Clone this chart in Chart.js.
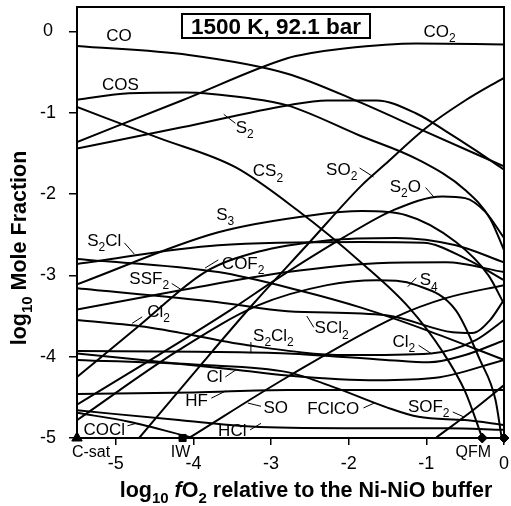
<!DOCTYPE html>
<html>
<head>
<meta charset="utf-8">
<script src="https://cdn.jsdelivr.net/npm/chart.js@4/dist/chart.umd.min.js"></script>
<style>
  html, body { margin: 0; padding: 0; background: #fff; }
  #wrap { width: 511px; height: 506px; }
</style>
</head>
<body>
<div id="wrap"><canvas id="c" width="511" height="506"></canvas></div>
<script>
// log10 mole fraction vs log10 fO2 (relative to NNO)
const CO    = [[-5.50,-0.18],[-4.06,-0.29],[-2.79,-0.52],[-1.86,-0.87],[-1.04,-1.22],[0,-1.66]];
const CO2   = [[-5.50,-1.36],[-4.15,-0.85],[-2.79,-0.33],[-2.50,-0.27],[-2.06,-0.21],[-1.13,-0.15],[0,-0.16]];
const COS   = [[-5.50,-0.84],[-4.83,-0.76],[-4.10,-0.75],[-3.30,-0.82],[-2.79,-0.91],[-1.86,-1.28],[-1.10,-1.58],[-0.50,-1.95],[-0.18,-2.30],[0,-2.69]];
const S2    = [[-5.50,-1.44],[-4.15,-1.18],[-2.79,-0.91],[-2.28,-0.85],[-1.64,-0.85],[-1.13,-1.01],[-0.71,-1.25],[-0.37,-1.46],[0,-1.70]];
const CS2   = [[-5.50,-0.93],[-4.45,-1.31],[-3.46,-1.67],[-2.66,-2.20],[-1.83,-2.85],[-1.22,-3.40],[-0.79,-3.94],[-0.50,-4.43],[-0.28,-5.00]];
const SO2   = [[-4.70,-5.00],[-3.94,-4.14],[-3.22,-3.34],[-2.54,-2.63],[-1.83,-1.89],[-1.55,-1.65],[-1.01,-1.19],[-0.50,-0.85],[0,-0.57]];
const S2O   = [[-5.50,-4.59],[-4.45,-3.98],[-3.53,-3.43],[-2.92,-3.04],[-2.06,-2.53],[-1.43,-2.20],[-0.79,-2.03],[-0.50,-2.05],[-0.24,-2.22],[0,-2.54]];
const S3    = [[-5.50,-3.11],[-3.68,-2.47],[-2.47,-2.26],[-1.83,-2.21],[-1.26,-2.26],[-0.62,-2.59],[-0.20,-3.00],[0,-3.35]];
const S2Cl  = [[-5.50,-2.86],[-3.68,-2.63],[-1.83,-2.59],[-1.04,-2.60],[-0.50,-2.79],[0,-3.06]];
const COF2  = [[-5.50,-4.25],[-4.70,-3.62],[-3.85,-2.96],[-3.17,-2.71],[-2.28,-2.57],[-1.39,-2.54],[-0.62,-2.63],[0,-2.84]];
const FCOS  = [[-5.50,-2.80],[-3.68,-2.96],[-2.66,-3.18],[-1.83,-3.40],[-1.01,-3.67],[0,-4.04]];
const SSF2  = [[-5.50,-3.42],[-4.15,-3.18],[-2.79,-2.96],[-1.64,-2.85],[-0.75,-2.84],[0,-2.96]];
const SCl2  = [[-5.50,-3.16],[-3.68,-3.33],[-2.79,-3.44],[-1.52,-3.49],[-0.66,-3.70],[-0.41,-3.71],[-0.18,-3.55],[0,-3.30]];
const S4    = [[-5.50,-4.78],[-4.19,-3.92],[-3.17,-3.37],[-2.28,-3.12],[-1.64,-3.06],[-1.13,-3.12],[-0.62,-3.43],[-0.31,-4.04],[-0.11,-4.53],[-0.03,-5.00]];
const Cl2   = [[-5.50,-3.55],[-4.57,-3.64],[-3.30,-3.86],[-2.03,-3.98],[-0.94,-3.96],[-0.37,-3.80],[0,-3.55]];
const S2Cl2 = [[-5.50,-3.93],[-3.94,-3.94],[-2.79,-3.96],[-1.52,-4.04],[-0.97,-4.07],[-0.50,-3.98],[0,-3.80]];
const Cl    = [[-5.50,-3.96],[-3.45,-4.16],[-2.79,-4.23],[-1.64,-4.29],[-0.88,-4.26],[0,-4.04]];
const HF    = [[-5.50,-4.46],[-4.00,-4.44],[-2.79,-4.41],[-1.40,-4.41],[0,-4.41]];
const HCl   = [[-5.50,-4.66],[-4.19,-4.78],[-3.26,-4.86],[-2.03,-4.88],[-0.75,-4.88],[0,-4.90]];
const COCl  = [[-5.50,-4.69],[-4.83,-4.80],[-4.04,-4.99]];
const FClCO = [[-5.50,-4.04],[-3.94,-4.10],[-2.79,-4.19],[-2.15,-4.39],[-1.52,-4.62],[-1.10,-4.74],[-0.50,-4.78],[0,-4.84]];
const SO    = [[-4.04,-4.99],[-2.79,-4.25],[-1.39,-3.51],[-0.75,-3.28],[0,-3.12]];
const SOF2  = [[-0.88,-5.00],[-0.43,-4.68],[0,-4.35]];

const curves = [CO, CO2, COS, S2, CS2, SO2, S2O, S3, S2Cl, COF2, FCOS, SSF2, SCl2, S4, Cl2, S2Cl2, Cl, HF, HCl, COCl, FClCO, SO, SOF2];

// buffers on the x axis
const bufferNames = ['C-sat', 'IW', 'QFM', ''];
const bufferX = [-5.50, -4.14, -0.28, 0];
const bufferStyle = ['triangle', 'rect', 'rectRot', 'rectRot'];

const xTicks = [-5, -4, -3, -2, -1, 0];
const yTicks = [-5, -4, -3, -2, -1, 0];

// species labels: text, x, y (data units); "_" marks a subscript
const speciesLabels = [
  ['CO', -4.96, -0.05], ['COS', -4.94, -0.65], ['S_2', -3.34, -1.18], ['CS_2', -3.04, -1.71],
  ['CO_2', -0.83, 0.01], ['SO_2', -2.09, -1.69], ['S_2O', -1.27, -1.90], ['S_3', -3.59, -2.25],
  ['S_2Cl', -5.15, -2.56], ['COF_2', -3.36, -2.85], ['SSF_2', -4.57, -3.03], ['Cl_2', -4.45, -3.44],
  ['S_2Cl_2', -2.97, -3.73], ['SCl_2', -2.22, -3.64], ['S_4', -0.97, -3.05], ['Cl_2', -1.29, -3.81],
  ['Cl', -3.73, -4.24], ['HF', -3.96, -4.53], ['SO', -2.94, -4.62], ['HCl', -3.50, -4.90],
  ['FClCO', -2.20, -4.63], ['SOF_2', -0.97, -4.61], ['COCl', -5.15, -4.89]
];
const leaders = [
  [-3.61,-1.02,-3.46,-1.13], [-1.86,-1.68,-1.68,-1.79], [-1.01,-1.92,-0.90,-2.04],
  [-4.89,-2.60,-4.76,-2.74], [-3.68,-2.81,-3.85,-2.91], [-4.28,-3.10,-4.15,-3.18],
  [-4.66,-3.51,-4.79,-3.59], [-3.26,-3.82,-3.26,-3.96], [-2.54,-3.50,-2.45,-3.64],
  [-1.13,-3.03,-1.24,-3.14], [-1.10,-3.86,-0.94,-3.96], [-3.59,-4.25,-3.45,-4.16],
  [-3.77,-4.51,-3.58,-4.42], [-3.30,-4.57,-3.13,-4.61], [-3.27,-4.90,-3.13,-4.82],
  [-1.81,-4.63,-1.67,-4.57], [-0.66,-4.68,-0.52,-4.74], [-4.85,-4.85,-4.74,-4.82]
];

const FONT = '"Liberation Sans", Arial, Helvetica, sans-serif';
Chart.defaults.font.family = FONT;
Chart.defaults.color = '#000';

function parse(s) {
  const out = [];
  const re = /_\{([^}]*)\}|_(.)|([^_]+)/g;
  let m;
  while ((m = re.exec(s))) {
    if (m[1] !== undefined) out.push({ t: m[1], sub: true });
    else if (m[2] !== undefined) out.push({ t: m[2], sub: true });
    else out.push({ t: m[3] });
  }
  return out;
}

function fontFor(p, size, bold) {
  const sz = p.sub ? Math.round(size * 0.72) : size;
  return (p.it ? 'italic ' : '') + (bold ? 'bold ' : '') + sz + 'px ' + FONT;
}

// draws text centred on cx, with its baseline at by
function drawRich(ctx, parts, cx, by, size, bold) {
  let w = 0;
  parts.forEach(p => { ctx.font = fontFor(p, size, bold); w += ctx.measureText(p.t).width; });
  let x = cx - w / 2;
  ctx.textAlign = 'left';
  ctx.textBaseline = 'alphabetic';
  parts.forEach(p => {
    ctx.font = fontFor(p, size, bold);
    ctx.fillText(p.t, x, p.sub ? by + size * 0.3 : by);
    x += ctx.measureText(p.t).width;
  });
}

const annot = {
  id: 'annot',
  afterDatasetsDraw(chart) {
    const { ctx, chartArea: a, scales: { x, y } } = chart;
    ctx.save();
    ctx.strokeStyle = '#000';
    ctx.lineWidth = 2;
    ctx.strokeRect(a.left, a.top, a.right - a.left, a.bottom - a.top);

    ctx.lineWidth = 1;
    leaders.forEach(([x1, y1, x2, y2]) => {
      ctx.beginPath();
      ctx.moveTo(x.getPixelForValue(x1), y.getPixelForValue(y1));
      ctx.lineTo(x.getPixelForValue(x2), y.getPixelForValue(y2));
      ctx.stroke();
    });

    ctx.fillStyle = '#000';
    speciesLabels.forEach(([t, lx, ly]) => {
      drawRich(ctx, parse(t), x.getPixelForValue(lx), y.getPixelForValue(ly) + 6, 17, false);
    });

    // title box
    const bx = a.left + 105, bw = 188, bt = a.top + 7, bh = 24;
    ctx.fillStyle = '#fff';
    ctx.fillRect(bx, bt, bw, bh);
    ctx.lineWidth = 2;
    ctx.strokeRect(bx, bt, bw, bh);
    ctx.fillStyle = '#000';
    drawRich(ctx, [{ t: '1500 K, 92.1 bar' }], bx + bw / 2, bt + 20, 22.5, true);

    // buffer names under the axis
    const off = [14, -2, -9, 0];
    bufferNames.forEach((n, i) => {
      if (!n) return;
      drawRich(ctx, [{ t: n }], x.getPixelForValue(bufferX[i]) + off[i], a.bottom + 19, 16, false);
    });
    ctx.restore();
  },
  afterDraw(chart) {
    const { ctx } = chart;
    ctx.save();
    ctx.fillStyle = '#000';
    drawRich(ctx, [{ t: 'log' }, { t: '10', sub: true }, { t: ' ' }, { t: 'f', it: true }, { t: 'O' }, { t: '2', sub: true },
      { t: ' relative to the Ni-NiO buffer' }], 306, 497, 21.5, true);
    ctx.translate(26, 248);
    ctx.rotate(-Math.PI / 2);
    drawRich(ctx, [{ t: 'log' }, { t: '10', sub: true }, { t: ' Mole Fraction' }], 0, 0, 21.5, true);
    ctx.restore();
  }
};

const datasets = curves.map(c => ({
  data: c.map(([x, y]) => ({ x, y })),
  showLine: true,
  borderColor: '#000',
  borderWidth: 2,
  pointRadius: 0,
  pointHoverRadius: 0,
  fill: false,
  cubicInterpolationMode: 'monotone'
}));
datasets.push({
  data: bufferX.map(x => ({ x, y: -5 })),
  showLine: false,
  pointStyle: bufferStyle,
  pointRadius: [6, 5, 5, 5],
  backgroundColor: '#000',
  borderColor: '#000',
  borderWidth: 1,
  clip: false
});

new Chart(document.getElementById('c'), {
  type: 'scatter',
  data: { datasets },
  options: {
    responsive: false,
    animation: false,
    events: [],
    layout: { padding: { left: 0, right: 2, top: 6, bottom: 0 } },
    plugins: { legend: { display: false }, title: { display: false }, tooltip: { enabled: false } },
    scales: {
      x: {
        type: 'linear', min: -5.50, max: 0,
        afterBuildTicks: s => { s.ticks = xTicks.map(v => ({ value: v })); },
        afterFit: s => { s.height = 68; s.paddingLeft = 0; s.paddingRight = 0; },
        ticks: { font: { size: 18 }, color: '#000', padding: 8, maxRotation: 0, autoSkip: false,
                 callback: v => String(Math.round(v)) },
        grid: { drawOnChartArea: false, drawTicks: true, tickLength: 7, color: '#000', lineWidth: 1.5 },
        border: { display: true, color: '#000', width: 2 }
      },
      y: {
        type: 'linear', min: -5, max: 0.30,
        afterBuildTicks: s => { s.ticks = yTicks.map(v => ({ value: v })); },
        afterFit: s => { s.width = 77; s.paddingTop = 0; s.paddingBottom = 0; },
        ticks: { font: { size: 18 }, color: '#000', padding: 13, crossAlign: 'center', autoSkip: false,
                 callback: v => String(Math.round(v)) },
        grid: { drawOnChartArea: false, drawTicks: true, tickLength: 8, color: '#000', lineWidth: 1.5 },
        border: { display: true, color: '#000', width: 2 }
      }
    }
  },
  plugins: [annot]
});
</script>
</body>
</html>
